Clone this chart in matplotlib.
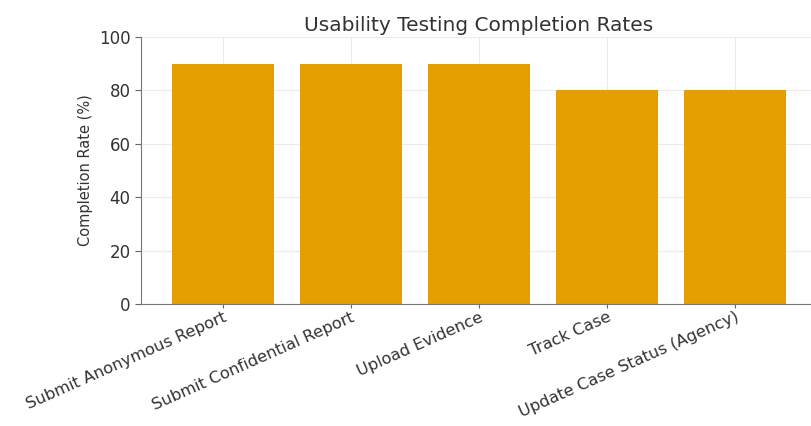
import matplotlib
matplotlib.use("Agg")
import matplotlib.pyplot as plt

categories = ["Submit Anonymous Report", "Submit Confidential Report",
              "Upload Evidence", "Track Case", "Update Case Status (Agency)"]
completion = [90, 90, 90, 80, 80]
yticks = [0, 20, 40, 60, 80, 100]

plt.rcParams['font.family'] = ['DejaVu Sans']
fig = plt.figure(figsize=(8.11, 4.26), dpi=100)
ax = fig.add_axes([141/811, 1-304/426, (817-141)/811, (304-37)/426])

ax.bar(range(len(categories)), completion, width=0.8, color='#E69F00', zorder=2)
ax.set_ylim(0, 100)
ax.set_yticks(yticks)
ax.set_xticks(range(len(categories)))
ax.set_xticklabels(categories, rotation=24, ha='right', rotation_mode='anchor', fontsize=11.7, color='#333333')
ax.tick_params(axis='y', labelsize=12, labelcolor='#333333', color='#666666', length=4)
ax.tick_params(axis='x', color='#666666', length=3, pad=1)
ax.set_ylabel("Completion Rate (%)", fontsize=10.5, color='#333333')
ax.set_title("Usability Testing Completion Rates", fontsize=14.5, color='#333333', pad=4)
ax.grid(True, color='#ebebeb', linewidth=0.8, zorder=0)
ax.set_axisbelow(True)
for s in ['top', 'right']:
    ax.spines[s].set_visible(False)
for s in ['left', 'bottom']:
    ax.spines[s].set_color('#777777')

fig.savefig("out.png", dpi=100)
